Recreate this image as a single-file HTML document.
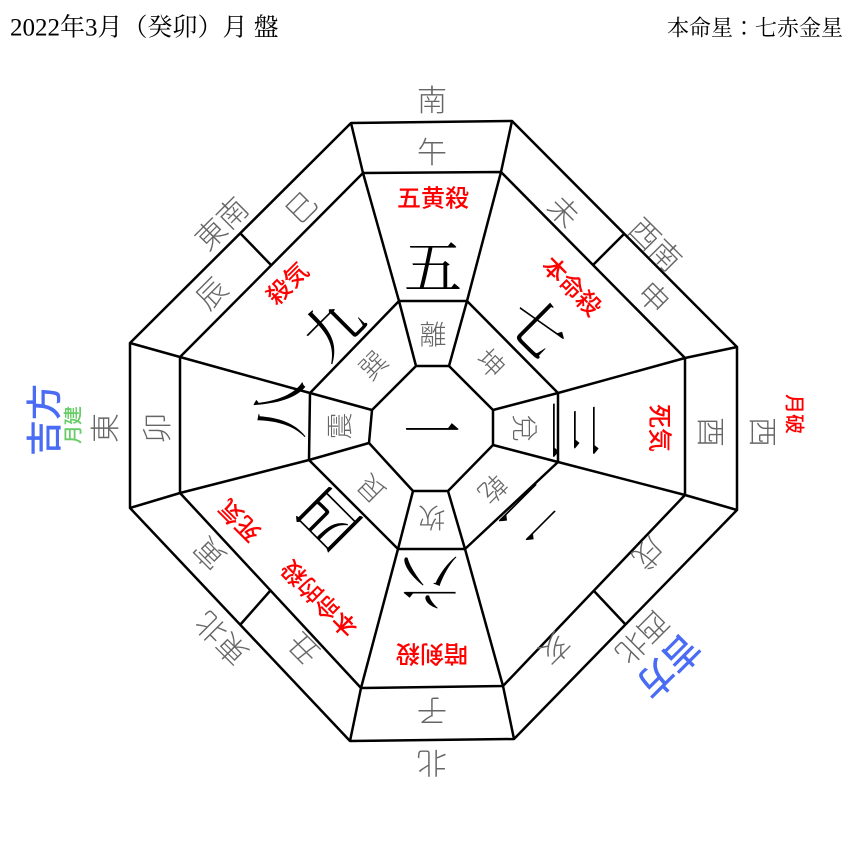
<!DOCTYPE html>
<html><head><meta charset="utf-8"><style>
html,body{margin:0;padding:0;background:#fff}
svg{display:block}
.g{font-family:"Noto Sans CJK JP",sans-serif;fill:#666;font-size:30px;font-weight:300}
.p{font-family:"Noto Sans CJK JP",sans-serif;fill:#666;font-size:27px;font-weight:300}
.n{font-family:"Noto Serif CJK SC",serif;fill:#000;font-size:58px}
.r{font-family:"Noto Sans CJK JP",sans-serif;fill:#f00;font-size:24px;font-weight:500}
.b{font-family:"Noto Sans CJK JP",sans-serif;fill:#4a6cf5;font-size:36px;font-weight:500}
text{text-anchor:middle;dominant-baseline:central}
</style></head><body>
<svg width="860" height="860" viewBox="0 0 860 860" xmlns="http://www.w3.org/2000/svg">
<g fill="none" stroke="#000" stroke-width="2.5" stroke-linejoin="round">
<polygon points="351,123 512,121 737,347 737,510 514,739 350,741 130,508 130,343"/>
<polygon points="363,173 501,172 685,358 685,495 503,686 361,688 180,493 180,357"/>
<polygon points="399,301 467,301 558,393 558,462 465,549 398,549 309,460 310,393"/>
<polygon points="416,366 449,366 493,410 493,445 448,491 413,491 369,443 372,410"/>
<polyline points="416,366 399,301 363,173 351,123"/>
<polyline points="449,366 467,301 501,172 512,121"/>
<polyline points="493,410 558,393 685,358 737,347"/>
<polyline points="493,445 558,462 685,495 737,510"/>
<polyline points="448,491 465,549 503,686 514,739"/>
<polyline points="413,491 398,549 361,688 350,741"/>
<polyline points="369,443 309,460 180,493 130,508"/>
<polyline points="372,410 310,393 180,357 130,343"/>
<line x1="624" y1="234" x2="593" y2="265"/>
<line x1="626" y1="625" x2="594" y2="591"/>
<line x1="240" y1="625" x2="270" y2="591"/>
<line x1="240" y1="233" x2="271" y2="265"/>
</g>
<text x="10" y="28" style="text-anchor:start;font-family:'Liberation Serif','Noto Serif CJK JP',serif;font-size:25px;fill:#000">2022年3月（癸卯）月 盤</text>
<text x="843" y="28" style="text-anchor:end;font-family:'Liberation Serif','Noto Serif CJK JP',serif;font-size:22px;fill:#000">本命星：七赤金星</text>

<g class="g">
<text x="432" y="150">午</text>
<text x="565" y="210" transform="rotate(45 565 210)">未</text>
<text x="655" y="296" transform="rotate(45 655 296)">申</text>
<text x="713" y="432" transform="rotate(90 713 432)">酉</text>
<text x="650" y="555" transform="rotate(135 650 555)">戌</text>
<text x="556" y="650" transform="rotate(135 556 650)">亥</text>
<text x="432" y="713" transform="rotate(180 432 713)">子</text>
<text x="302" y="650" transform="rotate(225 302 650)">丑</text>
<text x="208" y="555" transform="rotate(225 208 555)">寅</text>
<text x="155" y="428" transform="rotate(270 155 428)">卯</text>
<text x="210" y="292" transform="rotate(315 210 292)">辰</text>
<text x="300" y="206" transform="rotate(315 300 206)">巳</text>
<text x="432" y="98">南</text>
<text x="657" y="243" transform="rotate(45 657 243)">西南</text>
<text x="765" y="432" transform="rotate(90 765 432)">西</text>
<text x="644" y="639" transform="rotate(135 644 639)">西北</text>
<text x="432" y="765" transform="rotate(180 432 765)">北</text>
<text x="220" y="640" transform="rotate(225 220 640)">東北</text>
<text x="103" y="428" transform="rotate(270 103 428)">東</text>
<text x="220" y="222" transform="rotate(315 220 222)">東南</text>
</g>
<g class="p">
<text x="433" y="333">離</text>
<text x="492" y="362" transform="rotate(45 492 362)">坤</text>
<text x="526" y="428" transform="rotate(90 526 428)">兌</text>
<text x="494" y="490" transform="rotate(135 494 490)">乾</text>
<text x="432" y="519" transform="rotate(180 432 519)">坎</text>
<text x="370" y="490" transform="rotate(225 370 490)">艮</text>
<text x="338" y="426" transform="rotate(270 338 426)">震</text>
<text x="372" y="364" transform="rotate(315 372 364)">巽</text>
</g>
<g class="n">
<text x="432" y="428">一</text>
<text x="433" y="263">五</text>
<text x="540" y="325" transform="rotate(45 540 325)">七</text>
<text x="578" y="430" transform="rotate(90 578 430)">三</text>
<text x="532" y="517" transform="rotate(135 532 517)">二</text>
<text x="430" y="585" transform="rotate(180 430 585)">六</text>
<text x="326" y="522" transform="rotate(225 326 522)">四</text>
<text x="276" y="410" transform="rotate(270 276 410)">八</text>
<text x="330" y="325" transform="rotate(315 330 325)">九</text>
</g>
<g class="r">
<text x="433" y="196">五黄殺</text>
<text x="573" y="285" transform="rotate(45 573 285)">本命殺</text>
<text x="662" y="428" transform="rotate(90 662 428)">死気</text>
<text x="432" y="656" transform="rotate(180 432 656)">暗剣殺</text>
<text x="318" y="600" transform="rotate(225 318 600)">本命的殺</text>
<text x="238" y="522" transform="rotate(225 238 522)">死気</text>
<text x="286" y="282" transform="rotate(315 286 282)">殺気</text>
<text x="796" y="414" transform="rotate(90 796 414)" style="font-size:20px">月破</text>
</g>
<text class="b" x="670" y="668" transform="rotate(135 670 668)">吉方</text>
<text class="b" x="42" y="420" transform="rotate(270 42 420)">吉方</text>
<text x="72" y="425" transform="rotate(270 72 425)" style="font-family:'Noto Sans CJK JP',sans-serif;fill:#6c6;font-size:19px;font-weight:500">月建</text>
</svg>
</body></html>
